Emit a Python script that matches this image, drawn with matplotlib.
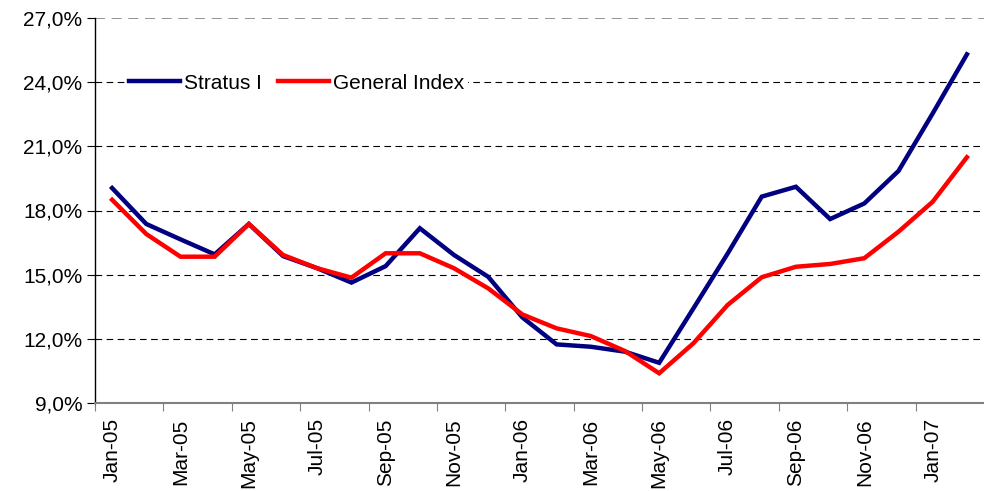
import matplotlib
matplotlib.use("Agg")
import matplotlib.pyplot as plt
from matplotlib.ticker import FuncFormatter, FixedLocator

plt.rcParams['font.family'] = ['Liberation Sans', 'DejaVu Sans']

months = ["Jan-05", "Feb-05", "Mar-05", "Apr-05", "May-05", "Jun-05", "Jul-05", "Aug-05",
          "Sep-05", "Oct-05", "Nov-05", "Dec-05", "Jan-06", "Feb-06", "Mar-06", "Apr-06",
          "May-06", "Jun-06", "Jul-06", "Aug-06", "Sep-06", "Oct-06", "Nov-06", "Dec-06",
          "Jan-07", "Feb-07"]

stratus = [19.05, 17.37, 16.65, 15.95, 17.37, 15.87, 15.30, 14.63, 15.40, 17.17, 15.92, 14.90,
           13.00, 11.74, 11.63, 11.40, 10.88, 13.42, 15.98, 18.65, 19.11, 17.60, 18.33, 19.85,
           22.54, 25.30]
general = [18.50, 16.90, 15.84, 15.84, 17.37, 15.92, 15.30, 14.86, 16.00, 16.00, 15.30, 14.36,
           13.14, 12.49, 12.13, 11.43, 10.39, 11.79, 13.58, 14.88, 15.37, 15.50, 15.77, 17.01,
           18.41, 20.49]

yticks = [9, 12, 15, 18, 21, 24, 27]

fig = plt.figure(figsize=(9.84, 4.91), dpi=100)
ax = fig.add_axes([95/984, 1 - 403/491, 1 - 95/984, (403 - 18)/491])

x = list(range(len(months)))
ax.plot(x, stratus, color="#000080", lw=3.2, label="Stratus I", solid_joinstyle="miter", zorder=3)
ax.plot(x, general, color="#FF0000", lw=3.2, label="General Index", solid_joinstyle="miter", zorder=3)

ax.set_xlim(-0.5, len(months) - 0.5)
ax.set_ylim(9, 27)

ax.set_yticks(yticks)
ax.yaxis.set_major_formatter(FuncFormatter(lambda v, p: f"{v:.1f}%".replace(".", ",")))
ax.tick_params(axis="y", direction="out", length=6, width=0.8, color="black",
               labelsize=15, pad=3)

for v in yticks[1:-1]:
    ax.axhline(v, color="black", lw=0.8, ls=(0, (6, 4)), zorder=1)
ax.axhline(27, color="#808080", lw=1.2, ls=(0, (6, 4)), zorder=1)

label_pos = x[::2]
ax.xaxis.set_major_locator(FixedLocator(label_pos))
ax.set_xticklabels([months[i] for i in label_pos], rotation=90, fontsize=15)
ax.xaxis.set_minor_locator(FixedLocator([p - 0.5 for p in label_pos]))
ax.tick_params(axis="x", which="major", length=0, pad=11)
ax.tick_params(axis="x", which="minor", direction="out", length=6, width=0.8, color="#808080")

for s in ["top", "right"]:
    ax.spines[s].set_visible(False)
ax.spines["left"].set_color("black")
ax.spines["left"].set_linewidth(1.0)
ax.spines["bottom"].set_color("#808080")
ax.spines["bottom"].set_linewidth(1.5)

leg = ax.legend(loc="center left", bbox_to_anchor=(0.035, 0.831), ncol=2, frameon=True,
                fontsize=15, handlelength=2.45, handletextpad=0.2, columnspacing=0.75,
                borderaxespad=0, borderpad=0.15, fancybox=False)
leg.get_frame().set_edgecolor("none")
leg.get_frame().set_facecolor("white")
leg.get_frame().set_alpha(1)
leg.set_zorder(4)

fig.savefig("out.png", dpi=100)
